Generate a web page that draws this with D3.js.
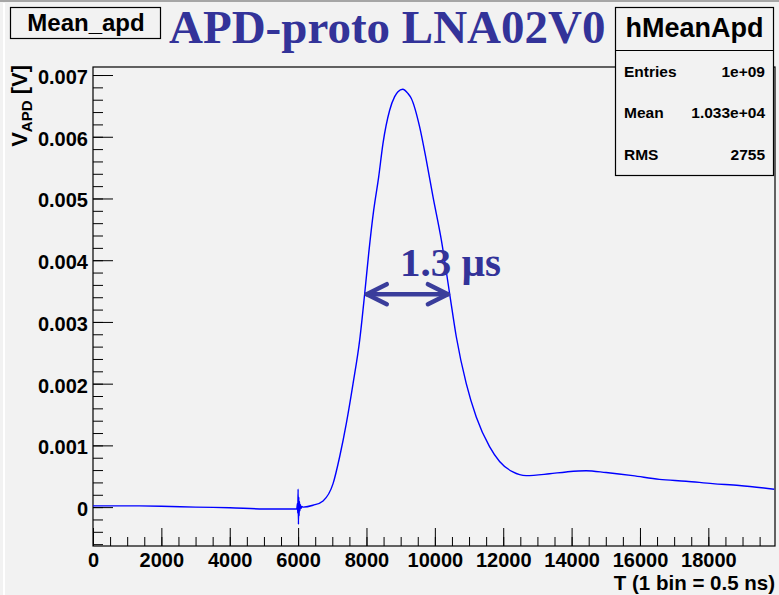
<!DOCTYPE html>
<html>
<head>
<meta charset="utf-8">
<script src="https://cdn.jsdelivr.net/npm/d3@7"></script>
<style>
  html, body { margin: 0; padding: 0; background: #f2f2f2; }
  svg { display: block; }
  .sans { font-family: "Liberation Sans", Arial, Helvetica, sans-serif; font-weight: bold; }
  .serif { font-family: "Liberation Serif", "Times New Roman", serif; font-weight: bold; }
</style>
</head>
<body>
<script>
// Mean APD waveform, bin index vs. averaged voltage (V)
const timeBins = [
  0, 1000, 2000, 3000, 4000, 5000, 5700, 5960, 5980, 5990,
  6000, 6010, 6020, 6030, 6040, 6052, 6066, 6085, 6110, 6150, 6437,
  6730, 7022, 7217, 7412, 7607, 7802, 7948, 8065, 8211, 8357,
  8482, 8678, 8824, 8921, 9060, 9214, 9312, 9555, 9750, 9945,
  10189, 10432, 10627, 10919, 11211, 11600, 11893, 12282, 12672, 13354,
  13841, 14425, 15010, 15789, 16568, 17347, 18126, 18905, 19928
];
const meanVoltage = [
  0.00002, 0.00002, 0.000015, 0.0, -0.00001, -0.00003, -0.00003, -0.00003, 0.00006, -0.00010,
  0.00029, -0.00028, 0.00016, -0.00014, 0.00009, -0.00006, 0.00004, -0.00002, 0.00001, 0.0, 0.00003,
  0.0001, 0.00038, 0.00082, 0.00136, 0.00200, 0.00271, 0.00346, 0.00411, 0.00481, 0.00535,
  0.00589, 0.00643, 0.00665, 0.00673, 0.00677, 0.00670, 0.00662, 0.00616, 0.00562, 0.00503,
  0.00433, 0.00346, 0.00276, 0.00200, 0.00146, 0.00098, 0.00074, 0.00057, 0.00051, 0.00054,
  0.00057, 0.00059, 0.00056, 0.00051, 0.00045, 0.00042, 0.00038, 0.00035, 0.00029
];

// Axis ticks
const xMajorTicks = [0, 2000, 4000, 6000, 8000, 10000, 12000, 14000, 16000, 18000];
const xMinorTicks = d3.range(0, 19951, 500);
const yMajorTicks = [0, 0.001, 0.002, 0.003, 0.004, 0.005, 0.006, 0.007];
const yMinorTicks = d3.range(-6, 71, 2).map(v => v / 10000);

// Statistics box rows
const statLabels = ["Entries", "Mean", "RMS"];
const statValues = ["1e+09", "1.033e+04", "2755"];

// FWHM annotation (bins at half maximum)
const fwhmBins = [7950, 10440];
const fwhmLevel = 0.00345;

const W = 779, H = 595;
const frame = { left: 93, right: 775, top: 67, bottom: 546 };
const navy = "#333399";

const svg = d3.select("body").append("svg").attr("width", W).attr("height", H);

// Canvas background with a thin bevel
svg.append("rect").attr("width", W).attr("height", H).attr("fill", "#f2f2f2");
svg.append("rect").attr("x", 0).attr("y", 0).attr("width", W).attr("height", 2).attr("fill", "#a6a6a6");
svg.append("rect").attr("x", 3).attr("y", 3).attr("width", 2).attr("height", H - 3).attr("fill", "#ffffff");

const x = d3.scaleLinear().domain([0, 19950]).range([frame.left, frame.right]);
const y = d3.scaleLinear().domain([-0.00063, 0.00713]).range([frame.bottom, frame.top]);

// Minor and major ticks on the y axis (pointing into the frame)
const yMinor = svg.append("g").attr("transform", `translate(${frame.left},0)`)
  .call(d3.axisLeft(y).tickValues(yMinorTicks).tickSize(-10).tickFormat(""));
const yMajor = svg.append("g").attr("class", "sans").attr("transform", `translate(${frame.left},0)`)
  .call(d3.axisLeft(y).tickValues(yMajorTicks).tickSize(-20).tickPadding(5)
    .tickFormat(d => d === 0 ? "0" : d3.format(".3f")(d)));

const xMinor = svg.append("g").attr("transform", `translate(0,${frame.bottom})`)
  .call(d3.axisBottom(x).tickValues(xMinorTicks).tickSize(-9).tickFormat(""));
const xMajor = svg.append("g").attr("class", "sans").attr("transform", `translate(0,${frame.bottom})`)
  .call(d3.axisBottom(x).tickValues(xMajorTicks).tickSize(-18).tickPadding(7)
    .tickFormat(d3.format("d")));

[yMinor, yMajor, xMinor, xMajor].forEach(g => {
  g.select(".domain").remove();
  g.selectAll(".tick line").attr("stroke", "#000").attr("stroke-width", 1);
  g.selectAll("text").attr("font-size", 20).attr("fill", "#000")
    .attr("font-family", "Liberation Sans, Arial, sans-serif").attr("font-weight", "bold");
});
yMajor.selectAll("text").attr("dy", "0.42em");

// Frame
svg.append("rect")
  .attr("x", frame.left).attr("y", frame.top)
  .attr("width", frame.right - frame.left).attr("height", frame.bottom - frame.top)
  .attr("fill", "none").attr("stroke", "#000").attr("stroke-width", 1.2);

// Waveform
svg.append("clipPath").attr("id", "plot-clip").append("rect")
  .attr("x", frame.left).attr("y", frame.top)
  .attr("width", frame.right - frame.left).attr("height", frame.bottom - frame.top);

const points = timeBins.map((t, i) => [t, meanVoltage[i]]);
svg.append("path")
  .attr("clip-path", "url(#plot-clip)")
  .attr("d", d3.line().x(d => x(d[0])).y(d => y(d[1])).curve(d3.curveMonotoneX)(points))
  .attr("fill", "none").attr("stroke", "#0000ff").attr("stroke-width", 1.4)
  .attr("stroke-linejoin", "round");

// FWHM arrow and label
const ay = y(fwhmLevel);
const ax0 = x(fwhmBins[0]), ax1 = x(fwhmBins[1]);
const arrow = svg.append("g").attr("stroke", "#3a3d9b").attr("stroke-width", 4.5)
  .attr("stroke-linecap", "round").attr("fill", "none");
arrow.append("line").attr("x1", ax0 + 2).attr("x2", ax1 - 2).attr("y1", ay).attr("y2", ay);
arrow.append("polyline").attr("points", `${ax0 + 22},${ay - 10} ${ax0 + 2},${ay} ${ax0 + 22},${ay + 10}`)
  .attr("stroke-linejoin", "round");
arrow.append("polyline").attr("points", `${ax1 - 22},${ay - 10} ${ax1 - 2},${ay} ${ax1 - 22},${ay + 10}`)
  .attr("stroke-linejoin", "round");

svg.append("text").attr("class", "serif")
  .attr("x", 400).attr("y", 276).attr("font-size", 41).attr("fill", navy)
  .text("1.3 µs");

// Axis titles
svg.append("text").attr("class", "sans")
  .attr("x", frame.right).attr("y", 590).attr("text-anchor", "end")
  .attr("font-size", 20.5).attr("fill", "#000")
  .text("T (1 bin = 0.5 ns)");

const yTitle = svg.append("text").attr("class", "sans")
  .attr("transform", `translate(27,${frame.top - 2}) rotate(-90)`)
  .attr("text-anchor", "end").attr("font-size", 22).attr("fill", "#000");
yTitle.append("tspan").text("V");
yTitle.append("tspan").attr("font-size", 15).attr("dy", 5).text("APD");
yTitle.append("tspan").attr("dy", -5).text(" [V]");

// Main title
svg.append("text").attr("class", "serif")
  .attr("x", 169).attr("y", 43).attr("font-size", 47).attr("fill", navy)
  .text("APD-proto LNA02V0");

// Name box
svg.append("rect").attr("x", 10.5).attr("y", 7.5).attr("width", 150).attr("height", 31)
  .attr("fill", "#f2f2f2").attr("stroke", "#000").attr("stroke-width", 1.2);
svg.append("text").attr("class", "sans")
  .attr("x", 86).attr("y", 31).attr("text-anchor", "middle").attr("font-size", 24)
  .attr("fill", "#000").text("Mean_apd");

// Statistics box
const sb = { x: 615.5, y: 7.5, w: 158, h: 168, head: 43 };
svg.append("rect").attr("x", sb.x).attr("y", sb.y).attr("width", sb.w).attr("height", sb.h)
  .attr("fill", "#f2f2f2").attr("stroke", "#000").attr("stroke-width", 1.2);
svg.append("line").attr("x1", sb.x).attr("x2", sb.x + sb.w)
  .attr("y1", sb.y + sb.head).attr("y2", sb.y + sb.head)
  .attr("stroke", "#000").attr("stroke-width", 1.2);
svg.append("text").attr("class", "sans")
  .attr("x", sb.x + sb.w / 2).attr("y", 37).attr("text-anchor", "middle")
  .attr("font-size", 27).attr("fill", "#000").text("hMeanApd");

const rowY = [77, 118, 160];
statLabels.forEach((lab, i) => {
  svg.append("text").attr("class", "sans")
    .attr("x", 624).attr("y", rowY[i]).attr("font-size", 15.5).attr("fill", "#000").text(lab);
  svg.append("text").attr("class", "sans")
    .attr("x", 765).attr("y", rowY[i]).attr("text-anchor", "end")
    .attr("font-size", 15.5).attr("fill", "#000").text(statValues[i]);
});
</script>
</body>
</html>
